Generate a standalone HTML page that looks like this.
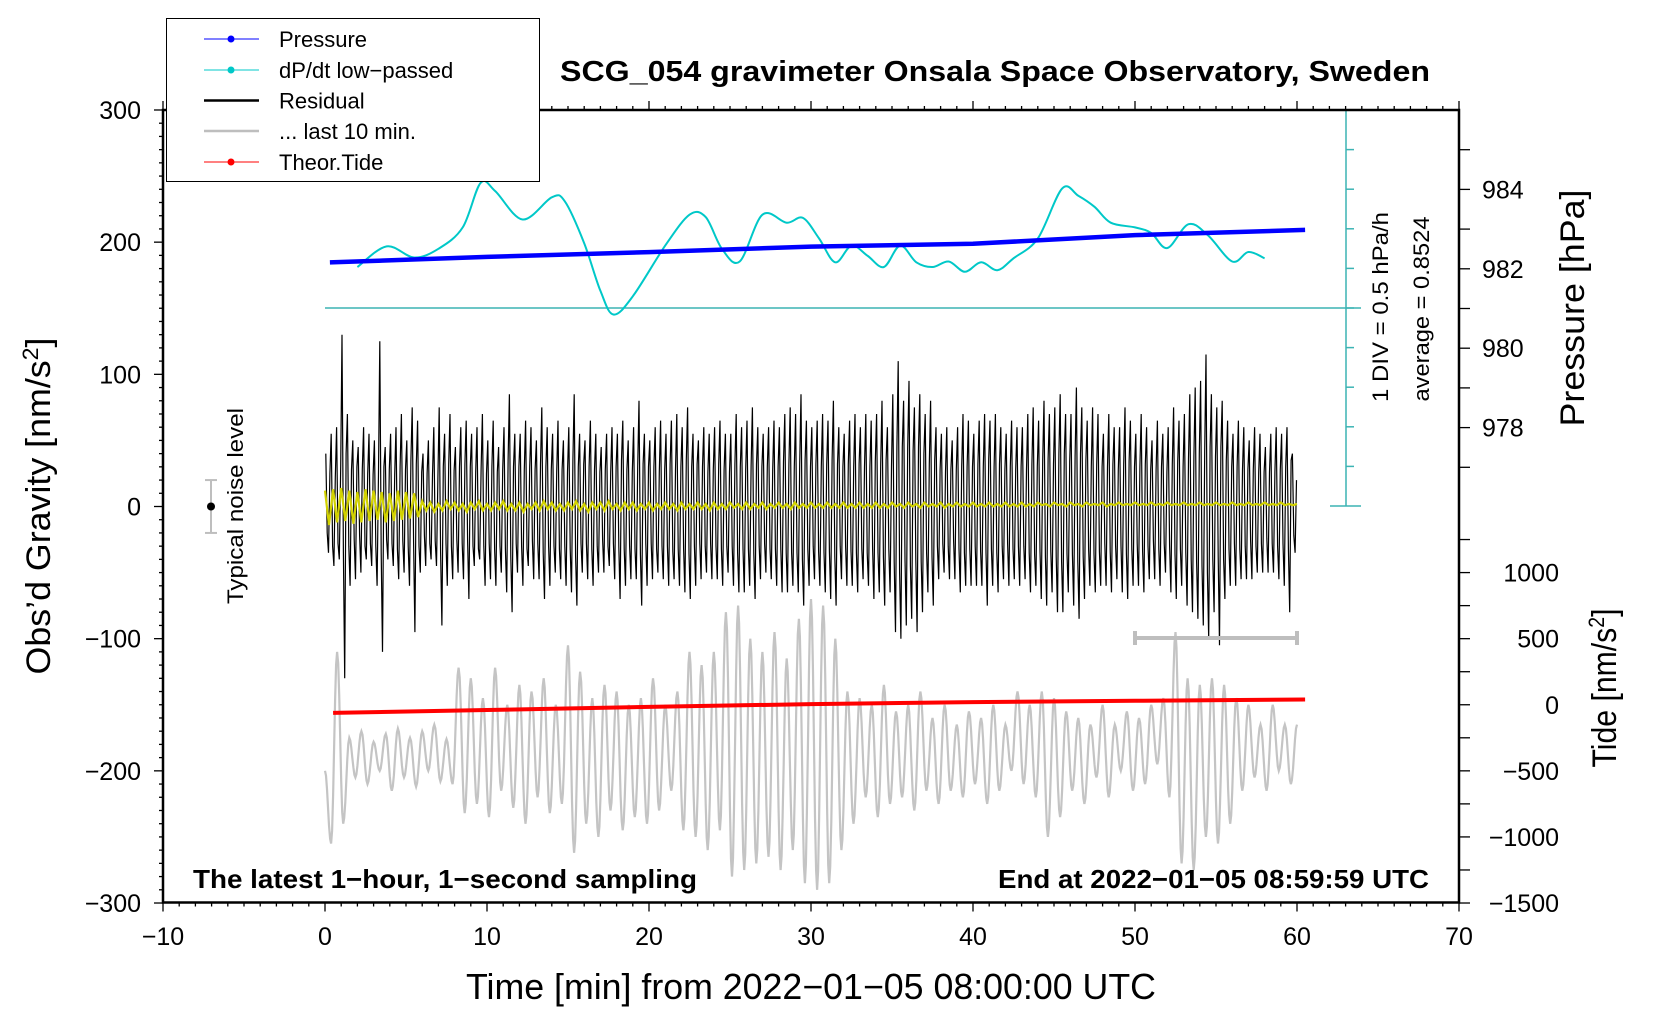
<!DOCTYPE html>
<html><head><meta charset="utf-8"><style>
html,body{margin:0;padding:0;background:#fff;}
svg{display:block;font-family:"Liberation Sans",sans-serif;}
</style></head><body>
<svg id="chart" width="1660" height="1020" viewBox="0 0 1660 1020" xmlns="http://www.w3.org/2000/svg">
<g id="marks"></g>
<g id="axes"></g>

<text x="995" y="81" font-size="29" font-weight="bold" text-anchor="middle" textLength="870" lengthAdjust="spacingAndGlyphs">SCG_054 gravimeter Onsala Space Observatory, Sweden</text>

<g>
<rect x="166.5" y="18.5" width="373" height="163" fill="#fff" stroke="#000" stroke-width="1"/>
<g><line x1="204" y1="39" x2="259" y2="39" stroke="#00f" stroke-width="1"/><circle cx="231" cy="39" r="3.5" fill="#00f"/><text x="279" y="47" font-size="22">Pressure</text></g>
<g><line x1="204" y1="70" x2="259" y2="70" stroke="#00c8c8" stroke-width="1"/><circle cx="231" cy="70" r="3.5" fill="#00c8c8"/><text x="279" y="78" font-size="22">dP/dt low−passed</text></g>
<g><line x1="204" y1="100.5" x2="259" y2="100.5" stroke="#000" stroke-width="2.5"/><text x="279" y="108.5" font-size="22">Residual</text></g>
<g><line x1="204" y1="131" x2="259" y2="131" stroke="#bebebe" stroke-width="2.5"/><text x="279" y="139" font-size="22">... last 10 min.</text></g>
<g><line x1="204" y1="162" x2="259" y2="162" stroke="#f00" stroke-width="1"/><circle cx="231" cy="162" r="3.5" fill="#f00"/><text x="279" y="170" font-size="22">Theor.Tide</text></g>
</g>

<text x="811" y="999" font-size="36" text-anchor="middle" textLength="690" lengthAdjust="spacingAndGlyphs">Time [min] from 2022−01−05 08:00:00 UTC</text>
<text transform="translate(50,506) rotate(-90)" font-size="34" text-anchor="middle" textLength="337" lengthAdjust="spacingAndGlyphs">Obs’d Gravity [nm/s<tspan font-size="22" dy="-12">2</tspan><tspan dy="12">]</tspan></text>
<text transform="translate(1584,308) rotate(-90)" font-size="34" text-anchor="middle" textLength="237" lengthAdjust="spacingAndGlyphs">Pressure [hPa]</text>
<text transform="translate(1616,688) rotate(-90)" font-size="34" text-anchor="middle" textLength="159" lengthAdjust="spacingAndGlyphs">Tide [nm/s<tspan font-size="22" dy="-12">2</tspan><tspan dy="12">]</tspan></text>

<text x="193" y="888" font-size="26" font-weight="bold" textLength="504" lengthAdjust="spacingAndGlyphs">The latest 1−hour, 1−second sampling</text>
<text x="1429" y="888" font-size="26" font-weight="bold" text-anchor="end" textLength="431" lengthAdjust="spacingAndGlyphs">End at 2022−01−05 08:59:59 UTC</text>
<text transform="translate(1388,307) rotate(-90)" font-size="22" text-anchor="middle" textLength="190" lengthAdjust="spacingAndGlyphs">1 DIV = 0.5 hPa/h</text>
<text transform="translate(1429,309) rotate(-90)" font-size="22" text-anchor="middle" textLength="185" lengthAdjust="spacingAndGlyphs">average = 0.8524</text>
<text transform="translate(243,506) rotate(-90)" font-size="22" text-anchor="middle" textLength="196" lengthAdjust="spacingAndGlyphs">Typical noise level</text>
</svg>
<script>
// ---- data ----
const pressureTimes = [0.3, 10, 20, 30, 40, 50, 60.5];
const pressureValues = [982.16, 982.30, 982.42, 982.56, 982.63, 982.85, 982.98];
const tideTimes = [0.5, 10, 20, 30, 40, 50, 60.5];
const tideValues = [-62, -40, -16, 5, 20, 30, 40];
const dpdtTimes = [2,3.8,5.5,7,8.5,9.6,10.5,12.2,14,14.8,16,17,17.8,19,21,22.5,23.5,24.5,25.6,27,28.5,29.5,30.5,31.5,32.5,33.5,34.5,35.5,36.5,37.5,38.5,39.5,40.5,41.5,42.5,44,45.5,46.5,47.5,48.5,50,51,52,53.3,54.5,56,57,58];
const dpdtValues = [1.37,1.63,1.49,1.60,1.87,2.43,2.33,1.97,2.25,2.20,1.67,1.07,0.77,1.00,1.64,2.03,2.00,1.60,1.44,2.03,1.93,1.99,1.73,1.43,1.64,1.51,1.37,1.64,1.43,1.37,1.44,1.31,1.43,1.33,1.48,1.73,2.36,2.27,2.13,1.93,1.87,1.80,1.61,1.91,1.77,1.44,1.56,1.48];
const dpdtAverage = 0.8524;
// outer residual swings, one every 10 s
const residualValues = [
40,-35,55,-45,60,-40, 130,-130,70,-60,50,-55, 45,-50,60,-40,55,-45, 50,-60,125,-110,45,-40, 55,-45,60,-55,70,-50,
50,-60,75,-95,65,-50, 40,-45,50,-40,60,-45, 75,-90,55,-60,70,-55, 45,-50,60,-55,65,-70, 55,-45,60,-40,70,-60,
50,-55,65,-60,45,-50, 60,-65,85,-80,55,-50, 55,-60,65,-45,60,-55, 50,-55,75,-70,60,-60, 55,-50,65,-55,50,-60,
60,-65,85,-75,55,-50, 50,-55,65,-60,55,-50, 45,-50,55,-45,60,-55, 55,-70,65,-60,50,-55, 60,-55,80,-75,55,-60,
50,-55,60,-50,65,-55, 55,-60,65,-55,70,-60, 60,-65,75,-70,55,-60, 50,-55,60,-50,55,-55, 60,-55,65,-60,55,-50,
55,-60,70,-65,60,-65, 65,-60,75,-70,60,-55, 55,-50,60,-55,65,-60, 60,-65,70,-65,75,-60, 70,-65,85,-75,65,-60,
60,-55,65,-60,70,-65, 65,-70,80,-75,60,-55, 55,-60,65,-60,70,-65, 60,-55,70,-60,65,-70, 70,-65,80,-75,60,-65,
85,-95,110,-100,80,-90, 95,-85,75,-95,85,-80, 70,-65,80,-75,60,-55, 55,-50,60,-55,50,-55, 60,-65,70,-60,65,-60,
55,-60,65,-60,70,-75, 65,-60,70,-65,60,-55, 55,-60,65,-55,60,-60, 60,-55,70,-65,75,-60, 65,-70,80,-75,70,-65,
75,-80,85,-80,70,-65, 70,-75,90,-85,75,-70, 65,-60,75,-65,70,-60, 55,-60,70,-65,60,-55, 60,-65,75,-70,65,-60,
55,-60,70,-65,60,-55, 50,-55,65,-60,55,-50, 60,-65,75,-70,65,-60, 70,-75,85,-80,90,-85, 95,-90,115,-100,85,-80,
75,-105,80,-70,65,-60, 55,-60,65,-55,60,-55, 50,-55,60,-50,55,-50, 45,-50,55,-50,60,-55, 55,-60,60,-80,40,-35];
// inner residual swings, between the outer ones
const residualInner = [
-20,25,-30,22,-28,30, -35,40,-30,28,-25,30, -22,28,-30,25,-28,24, -30,26,-35,30,-25,28, -28,24,-32,30,-26,28,
-30,35,-28,32,-30,26, -22,25,-28,24,-26,22, -35,30,-28,32,-30,27, -25,30,-28,32,-26,30, -30,26,-32,28,-30,25,
-28,30,-32,26,-30,28, -32,35,-38,30,-28,30, -30,28,-32,30,-26,28, -28,32,-35,30,-30,28, -30,26,-32,28,-30,26,
-32,35,-38,30,-28,32, -28,30,-32,28,-30,26, -25,28,-30,26,-28,30, -30,35,-32,28,-30,26, -32,30,-36,32,-28,30,
-28,30,-32,26,-30,28, -30,32,-34,28,-32,30, -32,35,-36,30,-30,32, -28,30,-30,26,-28,28, -30,32,-32,28,-30,26,
-30,32,-35,30,-32,28, -32,30,-36,32,-30,30, -28,30,-32,28,-32,30, -32,34,-35,32,-35,30, -35,32,-40,35,-32,30,
-30,32,-34,30,-35,32, -34,35,-38,32,-30,30, -30,32,-34,30,-35,32, -32,30,-35,30,-32,34, -35,32,-38,35,-32,30,
-42,45,-50,45,-40,45, -45,42,-40,45,-42,40, -35,32,-38,35,-30,28, -28,26,-30,28,-26,28, -32,30,-35,30,-32,30,
-30,32,-34,30,-35,36, -32,30,-35,32,-30,28, -28,30,-32,28,-30,30, -30,28,-35,32,-36,30, -34,35,-38,36,-34,32,
-38,40,-42,40,-36,34, -36,38,-42,40,-38,35, -32,30,-36,32,-34,30, -28,30,-34,32,-30,28, -30,32,-36,34,-32,30,
-28,30,-34,32,-30,28, -26,28,-32,30,-28,26, -30,32,-36,34,-32,30, -35,36,-40,38,-42,40, -45,42,-50,45,-40,38,
-38,45,-40,35,-32,30, -28,30,-32,28,-30,28, -26,28,-30,26,-28,26, -24,26,-28,26,-30,28, -28,30,-32,35,-22,20];
const residualStep = 1/6; // minutes per sample
const last10Values = [-200,-255,-110,-240,-175,-205,-170,-210,-178,-200,-172,-215,-168,-205,-175,-212,-170,-200,-165,-208,-176,-210,-122,-232,-130,-225,-145,-235,-122,-215,-150,-228,-135,-240,-140,-220,-130,-232,-150,-225,-105,-262,-125,-240,-145,-250,-135,-230,-140,-245,-150,-235,-145,-240,-130,-230,-150,-215,-140,-245,-110,-250,-120,-260,-110,-245,-80,-280,-75,-275,-100,-270,-110,-265,-95,-275,-115,-260,-85,-285,-70,-290,-75,-285,-100,-260,-140,-240,-145,-220,-150,-235,-135,-225,-155,-220,-150,-230,-140,-215,-160,-225,-150,-215,-165,-220,-155,-210,-160,-225,-150,-215,-165,-200,-140,-210,-150,-220,-140,-250,-145,-235,-155,-215,-160,-225,-165,-205,-150,-220,-165,-200,-155,-215,-160,-210,-150,-195,-145,-220,-95,-270,-130,-275,-135,-250,-130,-255,-135,-240,-145,-215,-150,-205,-165,-215,-150,-200,-165,-210,-165];
const last10Step = 0.375;
const yellowValues = [12,-14,13,-12,14,-11,12,-13,11,-12,13,-11,12,-10,11,-12,10,-11,12,-10,11,-9,10,-8,
4,-3,3,-4,2,-3,4,-2,3,-3,2,-4,3,-2,4,-3,2,-3,3,-2,4,-3,2,-3,3,-4,2,-2,3,-3,4,-2,3,-3,2,-3,
3,-2,4,-3,2,-4,3,-2,3,-3,4,-2,2,-3,3,-2,3,-3,2,-2,3,-3,2,-2,3,-2,2,-3,3,-2,2,-2,3,-2,2,-3,
3,-2,2,-2,3,-1,2,-2,3,-2,2,-1,3,-2,2,-1,3,-1,2,-2,3,-1,2,-1,3,-1,2,-1,3,-1,2,-1,3,-1,2,-1,
3,-1,2,-1,3,-1,2,-1,3,0,2,-1,3,0,2,-1,3,0,2,0,3,-1,2,0,3,0,2,0,3,0,2,0,3,0,2,0,3,0,2,0,
3,0,2,0,3,1,2,0,3,1,2,0,3,1,2,0,3,1,2,1,3,0,2,1,3,1,2,1,3,1,2,1,3,1,2,1,3,1,2,1,3,1,2,1,3,1,2,1,
3,1,2,1,3,1,2,1,3,1,2,1,3,1,2,1,3,1,2,1,2];
const yellowStep = 0.25;
const xTicks = [-10,0,10,20,30,40,50,60,70];
const yTicks = [-300,-200,-100,0,100,200,300];
const pressureTicks = [978,980,982,984];
const tideTicks = [-1500,-1000,-500,0,500,1000];

// ---- scales ----
const X = t => 163 + (t + 10) * 16.2;
const Y = g => 506.5 - g * 1.3217;
const P = p => 110 + (986 - p) * 39.7;
const T = v => Y((v - 1500) / 10);
const D = v => 308 - (v - dpdtAverage) * 79.2;

const NS = 'http://www.w3.org/2000/svg';
const marks = document.getElementById('marks');
const axes = document.getElementById('axes');
function mk(tag, attrs, parent) {
  const e = document.createElementNS(NS, tag);
  for (const k in attrs) e.setAttribute(k, attrs[k]);
  parent.appendChild(e);
  return e;
}
function poly(pts) { return pts.map((p, i) => (i ? 'L' : 'M') + p[0].toFixed(1) + ',' + p[1].toFixed(1)).join(''); }
function cosInterp(vals, step, fx, fy, n) {
  const pts = [];
  for (let i = 0; i < vals.length - 1; i++) {
    for (let j = 0; j < n; j++) {
      const f = j / n, w = (1 - Math.cos(Math.PI * f)) / 2;
      pts.push([fx((i + f) * step), fy(vals[i] * (1 - w) + vals[i + 1] * w)]);
    }
  }
  pts.push([fx((vals.length - 1) * step), fy(vals[vals.length - 1])]);
  return pts;
}
function catmull(pts) {
  let d = 'M' + pts[0][0].toFixed(1) + ',' + pts[0][1].toFixed(1);
  for (let i = 0; i < pts.length - 1; i++) {
    const p0 = pts[Math.max(0, i - 1)], p1 = pts[i], p2 = pts[i + 1], p3 = pts[Math.min(pts.length - 1, i + 2)];
    const c1 = [p1[0] + (p2[0] - p0[0]) / 6, p1[1] + (p2[1] - p0[1]) / 6];
    const c2 = [p2[0] - (p3[0] - p1[0]) / 6, p2[1] - (p3[1] - p1[1]) / 6];
    d += 'C' + c1.map(v => v.toFixed(1)) + ' ' + c2.map(v => v.toFixed(1)) + ' ' + p2.map(v => v.toFixed(1));
  }
  return d;
}

// gray last-10 series
const gray = mk('path', {d: poly(cosInterp(last10Values, last10Step, X, Y, 6)), fill: 'none', stroke: '#c4c4c4', 'stroke-width': 2.2}, marks);



// red tide
const tide = mk('path', {d: poly(tideTimes.map((t, i) => [X(t), T(tideValues[i])])), fill: 'none', stroke: '#f00', 'stroke-width': 4}, marks);



// residual: interleave outer and inner swings
const resPts = [];
residualValues.forEach((v, i) => {
  resPts.push([X(i * residualStep + 0.05), Y(v)]);
  if (i < residualInner.length) resPts.push([X(i * residualStep + 0.05 + residualStep / 2), Y(residualInner[i])]);
});
const res = mk('path', {d: poly(resPts), fill: 'none', stroke: '#000', 'stroke-width': 1.2}, marks);



// yellow
const yel = mk('path', {d: poly(yellowValues.map((v, i) => [X(i * yellowStep), Y(v)])), fill: 'none', stroke: '#d2d200', 'stroke-width': 2.2}, marks);



// dP/dt teal axis and baseline
const dax = mk('g', {stroke: '#3cb4b4', 'stroke-width': 1.5, fill: 'none'}, marks);


mk('line', {x1: 1346, y1: D(dpdtAverage + 2.5), x2: 1346, y2: D(dpdtAverage - 2.5)}, dax);
mk('line', {x1: 1330, y1: D(dpdtAverage + 2.5), x2: 1361, y2: D(dpdtAverage + 2.5)}, dax);
mk('line', {x1: 1330, y1: D(dpdtAverage - 2.5), x2: 1361, y2: D(dpdtAverage - 2.5)}, dax);
for (let k = -4; k <= 4; k++) mk('line', {x1: 1346, y1: D(dpdtAverage + k * 0.5), x2: 1354, y2: D(dpdtAverage + k * 0.5)}, dax);
const base = mk('line', {x1: 325, y1: D(dpdtAverage), x2: 1361, y2: D(dpdtAverage), stroke: '#3cb4b4', 'stroke-width': 1.5}, marks);



// cyan dP/dt
const dp = mk('path', {d: catmull(dpdtTimes.map((t, i) => [X(t), D(dpdtValues[i])])), fill: 'none', stroke: '#00c8c8', 'stroke-width': 2}, marks);



// pressure
const pr = mk('path', {d: poly(pressureTimes.map((t, i) => [X(t), P(pressureValues[i])])), fill: 'none', stroke: '#00f', 'stroke-width': 4.5}, marks);



// gray interval bar
const gb = mk('g', {stroke: '#bebebe', 'stroke-width': 4, fill: 'none'}, marks);


mk('line', {x1: X(50), y1: 638, x2: X(60), y2: 638}, gb);
mk('line', {x1: X(50), y1: 631, x2: X(50), y2: 645}, gb);
mk('line', {x1: X(60), y1: 631, x2: X(60), y2: 645}, gb);

// noise bar
const nb = mk('g', {}, marks);


mk('line', {x1: 211, y1: Y(20), x2: 211, y2: Y(-20), stroke: '#bebebe', 'stroke-width': 2}, nb);
mk('line', {x1: 205, y1: Y(20), x2: 217, y2: Y(20), stroke: '#bebebe', 'stroke-width': 2}, nb);
mk('line', {x1: 205, y1: Y(-20), x2: 217, y2: Y(-20), stroke: '#bebebe', 'stroke-width': 2}, nb);
mk('circle', {cx: 211, cy: Y(0), r: 4, fill: '#000'}, nb);

// ---- axes ----
const L = 163, R = 1459, TOP = 110, BOT = 902.5;
const frame = mk('rect', {x: L, y: TOP, width: R - L, height: BOT - TOP, fill: 'none', stroke: '#000', 'stroke-width': 2.5}, axes);


const tk = mk('g', {stroke: '#000', 'stroke-width': 1.3}, axes);


for (let t = -10; t <= 70; t++) {
  const len = t % 10 === 0 ? 9 : 4;
  mk('line', {x1: X(t), y1: BOT, x2: X(t), y2: BOT + len}, tk);
  mk('line', {x1: X(t), y1: TOP, x2: X(t), y2: TOP - len}, tk);
}
for (let g = -300; g <= 300; g += 10) {
  const len = g % 100 === 0 ? 9 : 4;
  mk('line', {x1: L, y1: Y(g), x2: L - len, y2: Y(g)}, tk);
}
for (let p = 977; p <= 985; p++) mk('line', {x1: R, y1: P(p), x2: R + 11, y2: P(p)}, tk);
for (let v = -1500; v <= 1250; v += 250) mk('line', {x1: R, y1: T(v), x2: R + 11, y2: T(v)}, tk);

const lab = mk('g', {'font-size': 25}, axes);


xTicks.forEach(t => {
  const e = mk('text', {x: X(t), y: 945, 'text-anchor': 'middle'}, lab);
  e.textContent = String(t).replace('-', '−');
  
  
});
yTicks.forEach(g => {
  const e = mk('text', {x: 141, y: Y(g) + 9, 'text-anchor': 'end'}, lab);
  e.textContent = String(g).replace('-', '−');
  
  
});
pressureTicks.forEach(p => {
  const e = mk('text', {x: 1482, y: P(p) + 9}, lab);
  e.textContent = String(p);
  
  
});
tideTicks.forEach(v => {
  const e = mk('text', {x: 1559, y: T(v) + 9, 'text-anchor': 'end'}, lab);
  e.textContent = String(v).replace('-', '−');
  
  
});
</script>
</body></html>
